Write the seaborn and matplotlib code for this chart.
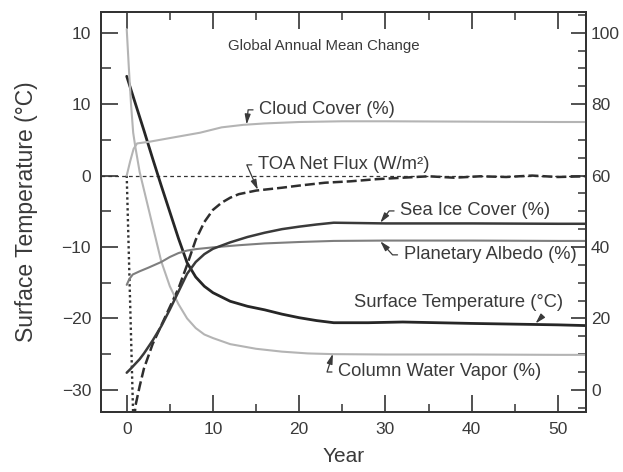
import matplotlib
matplotlib.use("Agg")
import matplotlib.pyplot as plt
import seaborn as sns
from matplotlib.ticker import MultipleLocator

# ---------------- data ----------------
temp_years = [0, 1, 2, 3, 4, 5, 6, 7, 8, 9, 10, 12, 14, 16, 18, 20, 22, 24, 28, 32, 36, 40, 45, 50, 53.2]
temp_vals = [13.9, 10.1, 6.3, 2.4, -1.4, -5.1, -8.8, -12.2, -14.2, -15.5, -16.4, -17.6, -18.3, -18.8,
             -19.4, -19.9, -20.3, -20.6, -20.6, -20.5, -20.6, -20.7, -20.8, -20.9, -21.0]

toa_years = [0, 0.8, 1, 1.5, 2, 3, 4, 5, 6, 7, 8, 9, 10, 11, 12, 13, 15, 18, 20, 23, 26, 29, 32,
             35, 38, 41, 44, 47, 50, 53.2]
toa_vals = [0, -36.0, -32.3, -29.5, -27.0, -23.6, -21.0, -18.4, -15.8, -12.5, -9.0, -6.5, -4.8, -3.8,
            -3.1, -2.6, -2.1, -1.7, -1.4, -1.0, -0.8, -0.5, -0.3, -0.1, -0.3, -0.1, -0.2, 0.0, -0.2, -0.1]

wv_years = [0, 0.25, 0.5, 0.75, 1, 1.5, 2, 3, 4, 5, 6, 7, 8, 9, 10, 12, 15, 18, 21, 24, 30, 40, 50, 53.2]
wv_vals = [101, 90, 80, 72, 68, 61, 56, 46, 36, 29, 24, 20, 17.3, 15.5, 14.5, 12.8, 11.5, 10.7, 10.2,
           10.0, 9.9, 9.9, 9.8, 9.8]

cloud_years = [0, 0.4, 0.8, 1.2, 2.7, 5, 8.5, 11, 13.5, 16, 20, 25, 30, 40, 50, 53.2]
cloud_vals = [60, 64, 67.5, 69, 69.5, 70.5, 72, 73.5, 74.2, 74.6, 75, 75.2, 75.2, 75.1, 75.0, 75.0]

ice_years = [0, 0.5, 1, 1.5, 2, 3, 4, 5, 6, 7, 8, 9, 10, 12, 14, 16, 18, 20, 22, 24, 30, 40, 50, 53.2]
ice_vals = [4.8, 6.0, 7.3, 8.6, 10.2, 13.8, 17.8, 22.5, 27.5, 32.5, 35.8, 38.0, 39.5, 41.3, 42.8, 44.0,
            45.0, 45.7, 46.3, 46.8, 46.6, 46.6, 46.5, 46.5]

alb_years = [0, 0.3, 0.7, 1.5, 2.5, 4, 5, 6, 7, 8, 10, 13, 16, 20, 24, 30, 40, 50, 53.2]
alb_vals = [29.4, 31.0, 32.3, 33.2, 34.2, 35.8, 37.2, 38.3, 39.0, 39.4, 39.9, 40.5, 41.0, 41.4, 41.7,
            41.8, 41.8, 41.7, 41.7]

left_ticks = [20, 10, 0, -10, -20, -30]
left_labels = ["10", "10", "0", "\u221210", "\u221220", "\u221230"]
right_ticks = [0, 20, 40, 60, 80, 100]
right_labels = ["0", "20", "40", "60", "80", "100"]
x_ticks = [0, 10, 20, 30, 40, 50]

# ---------------- style ----------------
sns.set_theme(style="ticks")
plt.rcParams["font.family"] = ["Liberation Sans", "DejaVu Sans"]
TXT = "#3a3a3a"
plt.rcParams["text.color"] = TXT
plt.rcParams["axes.labelcolor"] = TXT
plt.rcParams["xtick.color"] = "#333333"
plt.rcParams["ytick.color"] = "#333333"
plt.rcParams["xtick.labelcolor"] = TXT
plt.rcParams["ytick.labelcolor"] = TXT

fig = plt.figure(figsize=(6.23, 4.72), dpi=100)
ax = fig.add_axes([100.5 / 623, 1 - 412 / 472, (586 - 100.5) / 623, 400 / 472])
ax2 = ax.twinx()

XL = (-3.04, 53.25)
YL = (-33.1, 22.9)
ax.set_xlim(*XL)
ax.set_ylim(*YL)
ax2.set_ylim(2 * YL[0] + 60, 2 * YL[1] + 60)

# zero reference line
ax.axhline(0, color="#333333", lw=0.9, ls=(0, (3, 2.5)), zorder=1)

# left-axis series
sns.lineplot(x=temp_years, y=temp_vals, ax=ax, color="#262626", lw=2.0, zorder=5)
sns.lineplot(x=toa_years[:2], y=toa_vals[:2], ax=ax, color="#333333", lw=1.7,
             linestyle=(0, (1, 1.3)), zorder=4)
sns.lineplot(x=toa_years[1:], y=toa_vals[1:], ax=ax, color="#2e2e2e", lw=1.8,
             linestyle=(0, (4, 1.6)), zorder=4)

# right-axis series
sns.lineplot(x=wv_years, y=wv_vals, ax=ax2, color="#b4b4b4", lw=1.5)
sns.lineplot(x=cloud_years, y=cloud_vals, ax=ax2, color="#b4b4b4", lw=1.5)
sns.lineplot(x=alb_years, y=alb_vals, ax=ax2, color="#7e7e7e", lw=1.5)
sns.lineplot(x=ice_years, y=ice_vals, ax=ax2, color="#3a3a3a", lw=1.8)

ax.set_xlim(*XL)
ax.set_ylim(*YL)
ax2.set_ylim(2 * YL[0] + 60, 2 * YL[1] + 60)

# ---------------- axes / ticks ----------------
ax.set_xticks(x_ticks)
ax.set_yticks(left_ticks, left_labels)
ax2.set_yticks(right_ticks, right_labels)
ax.xaxis.set_minor_locator(MultipleLocator(5))
ax.yaxis.set_minor_locator(MultipleLocator(5))
ax2.yaxis.set_minor_locator(MultipleLocator(5))

ax.tick_params(axis="x", which="major", direction="in", length=12, width=1.2, top=True,
               labelsize=12.5, pad=6.9)
ax.tick_params(axis="x", which="minor", direction="in", length=6, width=1.1, top=True)
ax.tick_params(axis="y", which="major", direction="in", length=12.5, width=1.2, right=False,
               labelsize=12.5, pad=6.8)
ax.tick_params(axis="y", which="minor", direction="in", length=7, width=1.1, right=False)
ax2.tick_params(axis="y", which="major", direction="in", length=11, width=1.2,
                labelsize=12.5, pad=3.6)
ax2.tick_params(axis="y", which="minor", direction="in", length=5.5, width=1.1)

for a in (ax, ax2):
    for s in a.spines.values():
        s.set_color("#333333")
        s.set_linewidth(1.4)

ax.set_xlabel("Year", fontsize=15)
ax.set_ylabel("Surface Temperature (\u00b0C)", fontsize=16.5)
ax.yaxis.set_label_coords(-0.128, 0.5)
ax.xaxis.set_label_coords(0.5, -0.088)
ax2.set_ylabel("")

# ---------------- annotations ----------------
FS = 13.2


def lead(axis, text, xy, xytext, armA=11, ha="left", relpos=(0, 0.5), angleA=180, conn=None):
    cs = conn or f"arc,angleA={angleA},armA={armA},angleB=0,armB=0,rad=0"
    axis.annotate(text, xy=xy, xytext=xytext, textcoords="data", ha=ha, va="center",
                  fontsize=FS, color=TXT, zorder=10,
                  arrowprops=dict(arrowstyle="-|>,head_length=0.45,head_width=0.13",
                                  color="#3a3a3a", lw=0.9, shrinkA=2, shrinkB=0,
                                  connectionstyle=cs, relpos=relpos))


ax.text(11.7, 18.1, "Global Annual Mean Change", fontsize=10.8, color=TXT, ha="left", va="center")
lead(ax2, "Cloud Cover (%)", (13.9, 74.3), (15.35, 78.4))
lead(ax, "TOA Net Flux (W/m\u00b2)", (15.2, -2.0), (15.2, 1.5))
lead(ax2, "Sea Ice Cover (%)", (29.4, 46.8), (31.7, 50.1))
lead(ax2, "Planetary Albedo (%)", (29.4, 41.6), (32.1, 37.8))
lead(ax, "Surface Temperature (\u00b0C)", (47.4, -20.7), (50.6, -17.8), ha="right",
     relpos=(0.93, 0.1), conn="arc3,rad=0")
lead(ax2, "Column Water Vapor (%)", (23.9, 10.1), (24.5, 5.0))

fig.savefig("out.png", dpi=100)
